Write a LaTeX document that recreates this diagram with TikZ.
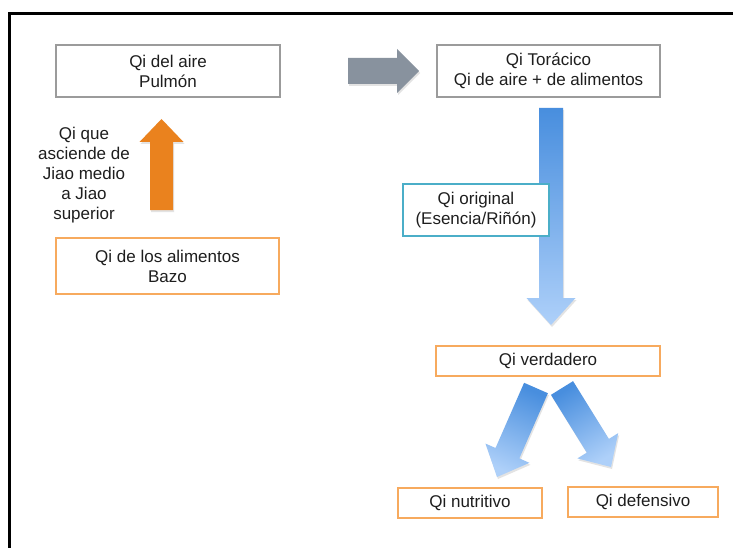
\documentclass[tikz,border=0pt]{standalone}
\usepackage{fontspec}
\setmainfont{Liberation Sans}
\usetikzlibrary{calc,shadows}

\definecolor{boxgray}{RGB}{155,155,155}
\definecolor{boxorange}{RGB}{247,170,94}
\definecolor{boxcyan}{RGB}{75,174,200}
\definecolor{arrgray}{RGB}{136,146,158}
\definecolor{arrorange}{RGB}{234,130,30}
\definecolor{bluedark}{RGB}{72,142,222}
\definecolor{bluelight}{RGB}{174,208,249}
\definecolor{txt}{RGB}{30,30,30}

% block arrow: #1 style, #2 tail, #3 tip, #4 shaft half-width, #5 head half-width, #6 head length
\newcommand\blockarr[6]{%
  \coordinate (hb) at ($(#3)!#6!(#2)$);
  \path[#1] ($(#2)!#4!90:(#3)$) -- ($(hb)!#4!90:(#3)$) -- ($(hb)!#5!90:(#3)$) -- (#3)
    -- ($(hb)!#5!-90:(#3)$) -- ($(hb)!#4!-90:(#3)$) -- ($(#2)!#4!-90:(#3)$) -- cycle;}

\begin{document}
\begin{tikzpicture}[x=1pt,y=-1pt,
  font=\fontsize{17}{20}\selectfont,
  box/.style={draw, fill=white, line width=2.2pt, inner sep=0pt, align=center, text=txt},
  graybox/.style={box, draw=boxgray},
  orangebox/.style={box, draw=boxorange},
  cyanbox/.style={box, draw=boxcyan},
  arrshadow/.style={drop shadow={opacity=0.22, shadow xshift=1pt, shadow yshift=-2pt}},
  grayarr/.style={fill=arrgray, arrshadow},
  orangearr/.style={fill=arrorange, arrshadow},
  bluearr/.style={top color=bluedark, bottom color=bluelight, arrshadow}]

\useasboundingbox (0,0) rectangle (733,548);
\fill[white] (0,0) rectangle (733,548);

% frame
\draw[line width=3pt] (9.5,548) -- (9.5,13.5) -- (733,13.5);

% arrow end points
\coordinate (gT) at (348,71);    \coordinate (gP) at (419,71);
\coordinate (oT) at (161.5,210); \coordinate (oP) at (161.5,119);
\coordinate (bT) at (551,108);   \coordinate (bP) at (551,325);
\coordinate (lT) at (536,388);   \coordinate (lP) at (497,477);
\coordinate (rT) at (562,388);   \coordinate (rP) at (611,467);

% block arrows
\blockarr{grayarr}{gT}{gP}{13pt}{22pt}{22pt}
\blockarr{orangearr}{oT}{oP}{11.5pt}{22pt}{23pt}
\blockarr{bluearr}{bT}{bP}{12pt}{24.5pt}{27pt}
\blockarr{bluearr, shading angle=-23.6}{lT}{lP}{13pt}{24pt}{26pt}
\blockarr{bluearr, shading angle=31}{rT}{rP}{13pt}{24pt}{25pt}

% boxes
\node[graybox, minimum width=224pt, minimum height=52pt] (pulmon) at (168,71) {Qi del aire\\Pulmón};
\node[graybox, minimum width=223pt, minimum height=52pt] (toracico) at (548.5,71) {Qi Torácico\\Qi de aire + de alimentos};
\node[orangebox, minimum width=223pt, minimum height=56pt] (bazo) at (167.5,266) {Qi de los alimentos\\Bazo};
\node[cyanbox, minimum width=146pt, minimum height=52pt] (original) at (476,210) {Qi original\\(Esencia/Riñón)};
\node[orangebox, minimum width=224pt, minimum height=30pt] (verdadero) at (548,361) {Qi verdadero};
\node[orangebox, minimum width=144pt, minimum height=30pt] (nutritivo) at (470,503) {Qi nutritivo};
\node[orangebox, minimum width=150pt, minimum height=30pt] (defensivo) at (643,502) {Qi defensivo};

% label beside the rising arrow
\node[text=txt, align=center, inner sep=0pt] (sube) at (84,175) {Qi que\\asciende de\\Jiao medio\\a Jiao\\superior};
\end{tikzpicture}
\end{document}
